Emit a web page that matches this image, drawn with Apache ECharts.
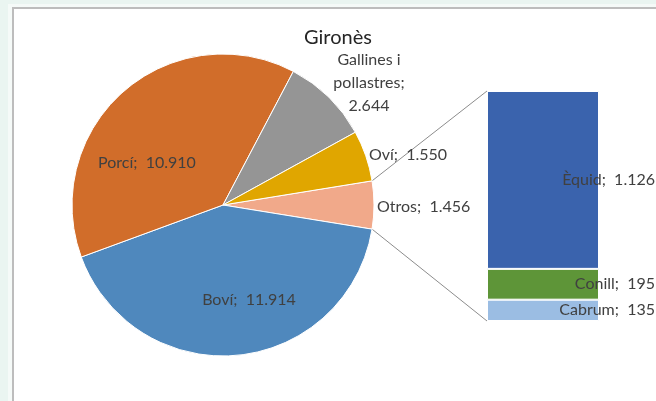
<!DOCTYPE html>
<html>
<head>
<meta charset="utf-8">
<script src="https://cdn.jsdelivr.net/npm/echarts@6/dist/echarts.min.js"></script>
<style>
  html, body { margin: 0; padding: 0; background: #eaf5f1; overflow: hidden; }
  #panel { position: absolute; left: 8px; top: 4px; width: 660px; height: 400px; background: #f5faf8; }
  #frame { position: absolute; left: 12px; top: 7px; width: 660px; height: 400px; background: #fff;
           border-left: 2px solid #bdbdbd; border-top: 2px solid #bdbdbd; }
  #chart { position: absolute; left: 0; top: 0; width: 656px; height: 401px; }
</style>
</head>
<body>
<div id="panel"></div>
<div id="frame"></div>
<div id="chart"></div>
<script>
// Pie slices, clockwise starting from the split-off "Otros" slice
const pieNames = ['Otros', 'Boví', 'Porcí', 'Gallines i pollastres', 'Oví'];
const pieValues = [1456, 11914, 10910, 2644, 1550];
const pieColors = ['#f1a98a', '#4f88bd', '#d16d2a', '#959595', '#e0a600'];

// Breakdown of "Otros" (bottom to top)
const barNames = ['Cabrum', 'Conill', 'Èquid'];
const barValues = [135, 195, 1126];
const barColors = ['#9bbde3', '#5e9538', '#3a63ad'];

const fmt = v => String(v).replace(/\B(?=(\d{3})+(?!\d))/g, '.');

const chart = echarts.init(document.getElementById('chart'));

// pie geometry
const cx = 223, cy = 205, r = 151;
const pieTotal = pieValues.reduce((a, b) => a + b, 0);
const startAngle = 360 * pieValues[0] / pieTotal / 2;

// bar geometry
const gridLeft = 487, gridTop = 91, gridWidth = 112, gridHeight = 230;
const barTotal = barValues.reduce((a, b) => a + b, 0);

// where Excel put the pie labels (x, y, align)
const labelSpots = [
  [377, 207, 'left'],
  [249, 300, 'center'],
  [147, 163, 'center'],
  [369, 83, 'center'],
  [369, 155, 'left']
];

const labelFont = { fontFamily: 'Lato', fontSize: 16, color: '#404040' };

const option = {
  animation: false,
  title: {
    text: 'Gironès',
    left: 299,
    top: 23,
    textStyle: { fontFamily: 'Lato', fontSize: 20, fontWeight: 'normal', color: '#262626' }
  },
  grid: { left: gridLeft, top: gridTop, width: gridWidth, height: gridHeight },
  xAxis: { type: 'category', data: [''], show: false },
  yAxis: { type: 'value', min: 0, max: barTotal, show: false },
  series: [
    {
      type: 'pie',
      center: [cx, cy],
      radius: r,
      startAngle: startAngle,
      clockwise: true,
      avoidLabelOverlap: false,
      itemStyle: { borderColor: '#fff', borderWidth: 1 },
      labelLine: { show: false },
      label: {
        ...labelFont,
        lineHeight: 23,
        formatter: p => p.name === 'Gallines i pollastres'
          ? 'Gallines i\npollastres;\n' + fmt(p.value)
          : p.name + ';  ' + fmt(p.value)
      },
      labelLayout: p => {
        const s = labelSpots[p.dataIndex];
        return { x: s[0], y: s[1], align: s[2], verticalAlign: 'middle' };
      },
      emphasis: { disabled: true },
      data: pieNames.map((n, i) => ({ name: n, value: pieValues[i], itemStyle: { color: pieColors[i] } }))
    },
    ...barNames.map((n, i) => ({
      type: 'bar',
      name: n,
      stack: 'otros',
      barWidth: '100%',
      itemStyle: { color: barColors[i], borderColor: '#fff', borderWidth: 1 },
      label: {
        show: true,
        position: 'insideRight',
        distance: 0,
        offset: [56, 0],
        ...labelFont,
        formatter: p => n + ';  ' + fmt(p.value)
      },
      emphasis: { disabled: true },
      data: [barValues[i]]
    }))
  ]
};

chart.setOption(option);

// connector lines from the "Otros" slice edges to the bar corners
const a = startAngle * Math.PI / 180;
const ex = cx + r * Math.cos(a);
const barTopY = chart.convertToPixel({ yAxisIndex: 0 }, barTotal);
const barBotY = chart.convertToPixel({ yAxisIndex: 0 }, 0);
chart.setOption({
  graphic: [
    { type: 'line', silent: true, shape: { x1: ex, y1: cy - r * Math.sin(a), x2: gridLeft, y2: barTopY },
      style: { stroke: '#8c8c8c', lineWidth: 1 } },
    { type: 'line', silent: true, shape: { x1: ex, y1: cy + r * Math.sin(a), x2: gridLeft, y2: barBotY },
      style: { stroke: '#8c8c8c', lineWidth: 1 } }
  ]
});
</script>
</body>
</html>
